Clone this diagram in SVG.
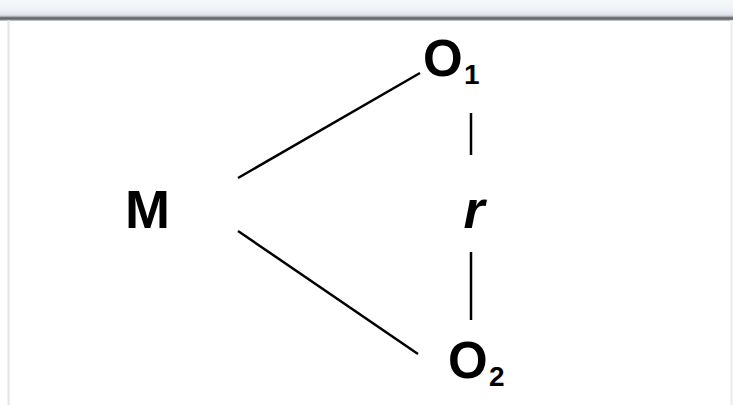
<svg xmlns="http://www.w3.org/2000/svg" width="733" height="405" viewBox="0 0 733 405">
  <defs>
    <linearGradient id="topband" x1="0" y1="0" x2="0" y2="1">
      <stop offset="0" stop-color="#f6f8fb"/>
      <stop offset="0.5" stop-color="#edf1f5"/>
      <stop offset="0.72" stop-color="#dfe4ea"/>
      <stop offset="0.78" stop-color="#b0b3b6"/>
      <stop offset="0.86" stop-color="#5a5c5e"/>
      <stop offset="0.95" stop-color="#8a8c8e"/>
      <stop offset="1" stop-color="#e8e8e8"/>
    </linearGradient>
  </defs>
  <style>
    .lbl { font-family: "Liberation Sans", Arial, sans-serif; font-weight: bold; fill: #000; }
    .sub { font-size: 28px; }
    .edge { stroke: #000; stroke-width: 2.5; fill: none; stroke-linecap: butt; }
  </style>
  <rect x="0" y="0" width="733" height="405" fill="#ffffff"/>
  <rect x="0" y="0" width="733" height="21" fill="url(#topband)"/>
  <line x1="8.5" y1="20" x2="8.5" y2="405" stroke="#e4e4e4" stroke-width="2"/>
  <line x1="731.5" y1="20" x2="731.5" y2="405" stroke="#ececec" stroke-width="2"/>

  <g id="connectors">
    <line class="edge" x1="238" y1="178" x2="420" y2="73"/>
    <line class="edge" x1="238" y1="231" x2="418" y2="354"/>
    <line class="edge" x1="471" y1="113" x2="471" y2="155" stroke-width="3"/>
    <line class="edge" x1="471" y1="252" x2="471" y2="320" stroke-width="3"/>
  </g>

  <g id="node-M">
    <text class="lbl" x="125" y="228" font-size="54">M</text>
  </g>
  <g id="node-O1">
    <text class="lbl" x="423" y="76" font-size="51">O</text>
    <text class="lbl sub" x="464" y="84">1</text>
  </g>
  <g id="node-O2">
    <text class="lbl" x="448" y="378" font-size="51">O</text>
    <text class="lbl sub" x="489" y="386">2</text>
  </g>
  <g id="label-r">
    <text class="lbl" x="474" y="228" font-size="54" font-style="italic" text-anchor="middle">r</text>
  </g>
</svg>
